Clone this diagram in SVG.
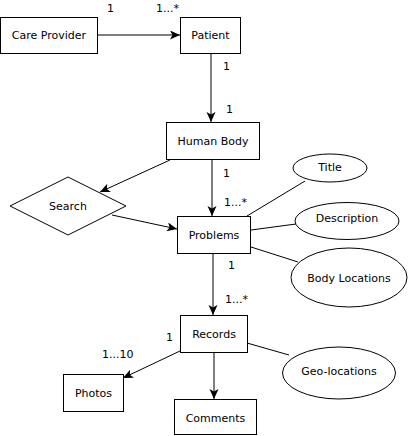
<svg xmlns="http://www.w3.org/2000/svg" width="408" height="436" viewBox="0 0 408 436">
<style>
.box{fill:#fff;stroke:#000;stroke-width:1}
.t{font-family:"DejaVu Sans",Verdana,sans-serif;font-size:11px;fill:#000;text-anchor:middle}
.l{font-family:"DejaVu Sans",Verdana,sans-serif;font-size:11px;fill:#000}
.e{fill:none;stroke:#000;stroke-width:1}
</style>
<defs>
<marker id="arr" markerUnits="userSpaceOnUse" markerWidth="12" markerHeight="10" refX="10" refY="4.5" orient="auto" viewBox="0 0 12 10">
<path d="M0,0 L10,4.5 L0,9 L2.5,4.5 z" fill="#000"/>
</marker>
</defs>
<rect width="408" height="436" fill="#fff"/>
<g id="connectors">
<line class="e" x1="98" y1="35" x2="180" y2="35" marker-end="url(#arr)"/>
<line class="e" x1="211" y1="53" x2="211" y2="122" marker-end="url(#arr)"/>
<line class="e" x1="170" y1="160" x2="100" y2="192" marker-end="url(#arr)"/>
<line class="e" x1="212" y1="160" x2="212" y2="216" marker-end="url(#arr)"/>
<line class="e" x1="112" y1="215" x2="177" y2="229" marker-end="url(#arr)"/>
<line class="e" x1="213" y1="254" x2="213" y2="315" marker-end="url(#arr)"/>
<line class="e" x1="180" y1="351" x2="123" y2="378" marker-end="url(#arr)"/>
<line class="e" x1="214" y1="352" x2="214" y2="399" marker-end="url(#arr)"/>
<line class="e" x1="247" y1="216" x2="305" y2="181"/>
<line class="e" x1="251" y1="230" x2="296" y2="224"/>
<line class="e" x1="251" y1="247" x2="298" y2="262"/>
<line class="e" x1="247" y1="343" x2="289" y2="355"/>
<text class="l" x="107" y="12">1</text>
<text class="l" x="156" y="12">1...*</text>
<text class="l" x="223" y="70">1</text>
<text class="l" x="226" y="113">1</text>
<text class="l" x="223" y="177">1</text>
<text class="l" x="224" y="206">1...*</text>
<text class="l" x="228" y="269">1</text>
<text class="l" x="225" y="303">1...*</text>
<text class="l" x="166" y="341">1</text>
<text class="l" x="102" y="358">1...10</text>
</g>
<g id="care-provider"><rect class="box" x="0.5" y="17.5" width="97" height="36"/><text class="t" x="49" y="39">Care Provider</text></g>
<g id="patient"><rect class="box" x="180.5" y="17.5" width="60" height="36"/><text class="t" x="210.5" y="39">Patient</text></g>
<g id="human-body"><rect class="box" x="166.5" y="122.5" width="93" height="37"/><text class="t" x="213" y="145">Human Body</text></g>
<g id="search"><polygon class="box" points="10,206 68,177 126,206 68,235"/><text class="t" x="68" y="210">Search</text></g>
<g id="problems"><rect class="box" x="177.5" y="216.5" width="73" height="37"/><text class="t" x="214" y="239">Problems</text></g>
<g id="title"><ellipse class="box" cx="330" cy="168" rx="37" ry="14"/><text class="t" x="330" y="171">Title</text></g>
<g id="description"><ellipse class="box" cx="347" cy="221" rx="52" ry="18.5"/><text class="t" x="347" y="222">Description</text></g>
<g id="body-locations"><ellipse class="box" cx="349" cy="277.5" rx="58" ry="29.5"/><text class="t" x="349" y="282">Body Locations</text></g>
<g id="records"><rect class="box" x="180.5" y="315.5" width="67" height="37"/><text class="t" x="214" y="338">Records</text></g>
<g id="geo-locations"><ellipse class="box" cx="339" cy="373" rx="56.5" ry="26"/><text class="t" x="339" y="375">Geo-locations</text></g>
<g id="photos"><rect class="box" x="63.5" y="374.5" width="60" height="37"/><text class="t" x="93.5" y="397">Photos</text></g>
<g id="comments"><rect class="box" x="174.5" y="399.5" width="82" height="35"/><text class="t" x="215.5" y="422">Comments</text></g>
</svg>
